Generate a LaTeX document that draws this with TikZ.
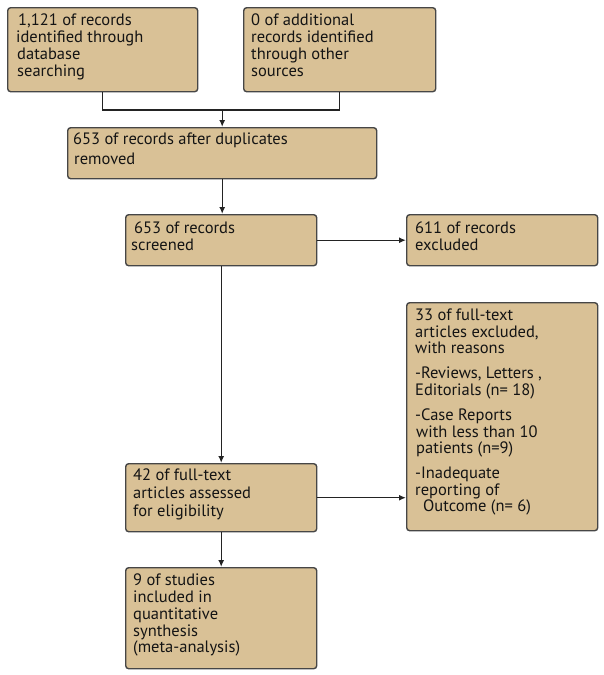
\documentclass[tikz,border=0pt]{standalone}
\usepackage{fontspec}
\setmainfont{PT Sans}
\usetikzlibrary{arrows.meta,calc}
\definecolor{boxfill}{RGB}{217,193,150}
\definecolor{boxline}{RGB}{70,70,70}
\definecolor{arrowline}{RGB}{35,35,35}
\definecolor{txtcol}{RGB}{20,20,20}
\begin{document}
\begin{tikzpicture}[x=1pt,y=-1pt,
  box/.style={draw=boxline, fill=boxfill, line width=1.4pt, rounded corners=3pt, inner sep=0pt, anchor=north west},
  txt/.style={align=left, inner sep=0pt, anchor=north west, font=\fontsize{16.5}{16.7}\selectfont, text=txtcol},
  conn/.style={draw=arrowline, line width=1.4pt},
  arr/.style={conn, -{Latex[length=7pt,width=6pt]}}]
\useasboundingbox (0,0) rectangle (604,675);

\node[box, minimum width=190pt, minimum height=84pt] (b1) at (7,7) {};
\node[box, minimum width=192pt, minimum height=84pt] (b2) at (243,7) {};
\node[box, minimum width=309pt, minimum height=51pt] (b3) at (67,127) {};
\node[box, minimum width=191pt, minimum height=51pt] (b4) at (125,214) {};
\node[box, minimum width=191pt, minimum height=51pt] (b5) at (406,214) {};
\node[box, minimum width=191pt, minimum height=228pt] (b6) at (406,302) {};
\node[box, minimum width=191pt, minimum height=68pt] (b7) at (125,463) {};
\node[box, minimum width=191pt, minimum height=101pt] (b8) at (125,567) {};

\node[txt] (t1) at ($(b1.north west)+(9,7)$) {\hspace{2pt}1,121 of records\\identified through\\\hspace{1pt}database\\\hspace{1pt}searching};
\node[txt] (t2) at ($(b2.north west)+(8,7)$) {0 of additional\\records identified\\through other\\sources};
\node[txt] (t3) at ($(b3.north west)+(6,6)$) {653 of records after duplicates\\[2.5pt]\hspace{1pt}removed};
\node[txt] (t4) at ($(b4.north west)+(6,8)$) {\hspace{3pt}653 of records\\screened};
\node[txt] (t5) at ($(b5.north west)+(9,8)$) {611 of records\\excluded};
\node[txt] (t6) at ($(b6.north west)+(9,7)$) {33 of full-text\\[-0.5pt]articles excluded,\\[-0.5pt]with reasons\\[9pt]-Reviews, Letters ,\\[-0.5pt]Editorials (n= 18)\\[9pt]-Case Reports\\[-0.5pt]\hspace{1pt}with less than 10\\[-0.5pt]\hspace{1pt}patients (n=9)\\[9pt]-Inadequate\\[-0.5pt]reporting of\\[-0.5pt]\hspace{8pt}Outcome (n= 6)};
\node[txt] (t7) at ($(b7.north west)+(8,6)$) {42 of full-text\\[1.3pt]articles assessed\\[1.3pt]for eligibility};
\node[txt] (t8) at ($(b8.north west)+(8,7)$) {9 of studies\\included in\\quantitative\\synthesis\\(meta-analysis)};

\coordinate (ylev) at (0,110);
\coordinate (mid) at (b3.north |- ylev);
\draw[conn] (b1.south) -- (b1.south |- ylev) -- (b2.south |- ylev) -- (b2.south);
\draw[arr] (mid) -- (b3.north);
\draw[arr] (b3.south) -- (b3.south |- b4.north);
\draw[arr] (b4.east) -- (b5.west);
\draw[arr] (b4.south) -- (b7.north);
\draw[arr] (b7.east) -- (b7.east -| b6.west);
\draw[arr] (b7.south) -- (b8.north);
\end{tikzpicture}
\end{document}
